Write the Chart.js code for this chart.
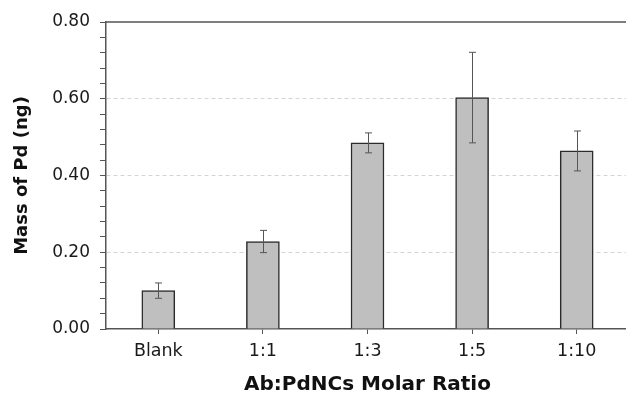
<!DOCTYPE html>
<html>
<head>
<meta charset="utf-8">
<script src="https://cdn.jsdelivr.net/npm/chart.js@4.4.1/dist/chart.umd.min.js"></script>
<style>
    html, body { margin: 0; padding: 0; background: #fff; overflow: hidden; }
    #wrap { width: 629px; height: 397px; }
</style>
</head>
<body>
<div id="wrap"><canvas id="massChart" width="629" height="397"></canvas></div>
<script>
// Chart data
const categories = ['Blank', '1:1', '1:3', '1:5', '1:10'];
const massValues = [0.100, 0.228, 0.485, 0.603, 0.464];
const errorValues = [0.020, 0.029, 0.026, 0.118, 0.052];
const yTickLabels = ['0.00', '0.20', '0.40', '0.60', '0.80'];

const FONT = "'DejaVu Sans', sans-serif";

// Draws the error bars and the frame line along the top of the plot
const errorBarPlugin = {
    id: 'errorBars',
    afterDatasetsDraw(chart) {
        const ctx = chart.ctx;
        const yScale = chart.scales.y;
        const meta = chart.getDatasetMeta(0);
        ctx.save();
        ctx.strokeStyle = '#555';
        ctx.lineWidth = 1;
        meta.data.forEach((bar, i) => {
            const x = Math.round(bar.x) + 0.5;
            const top = yScale.getPixelForValue(massValues[i] + errorValues[i]);
            const bottom = yScale.getPixelForValue(massValues[i] - errorValues[i]);
            ctx.beginPath();
            ctx.moveTo(x, top);
            ctx.lineTo(x, bottom);
            ctx.moveTo(x - 3.5, top);
            ctx.lineTo(x + 3.5, top);
            ctx.moveTo(x - 3.5, bottom);
            ctx.lineTo(x + 3.5, bottom);
            ctx.stroke();
        });
        // top frame line
        const area = chart.chartArea;
        ctx.strokeStyle = '#555';
        ctx.lineWidth = 1.5;
        ctx.beginPath();
        ctx.moveTo(area.left, area.top);
        ctx.lineTo(area.right, area.top);
        ctx.stroke();
        ctx.restore();
    }
};

new Chart(document.getElementById('massChart').getContext('2d'), {
    type: 'bar',
    data: {
        labels: categories,
        datasets: [{
            label: 'Mass of Pd',
            data: massValues,
            backgroundColor: '#bfbfbf',
            borderColor: '#2b2b2b',
            borderWidth: 1.5,
            barThickness: 33
        }]
    },
    options: {
        responsive: false,
        animation: false,
        devicePixelRatio: 1,
        layout: {
            padding: { top: 22, left: 0, right: 0, bottom: 0 }
        },
        plugins: {
            legend: { display: false },
            tooltip: { enabled: false }
        },
        scales: {
            x: {
                afterFit: function(scale) { scale.height = 68; },
                grid: {
                    display: true,
                    offset: false,
                    drawOnChartArea: false,
                    tickLength: 5,
                    tickColor: '#555'
                },
                border: { color: '#555', width: 1.5 },
                ticks: {
                    color: '#1a1a1a',
                    padding: 7,
                    font: { family: FONT, size: 17.5 }
                },
                title: {
                    display: true,
                    text: 'Ab:PdNCs Molar Ratio',
                    color: '#111',
                    padding: { top: 0, bottom: 0 },
                    font: { family: FONT, size: 20, weight: 'bold' }
                }
            },
            y: {
                min: 0,
                max: 0.8,
                afterFit: function(scale) { scale.width = 106; },
                grid: {
                    color: function(context) {
                        const v = Math.round(context.tick.value * 100);
                        return (v === 20 || v === 40 || v === 60) ? '#d4d4d4' : 'rgba(0,0,0,0)';
                    },
                    tickColor: '#555',
                    tickLength: 6,
                    tickBorderDash: []
                },
                border: { color: '#555', width: 1.5, dash: [4, 3] },
                ticks: {
                    stepSize: 0.04,
                    autoSkip: false,
                    padding: 10,
                    color: '#1a1a1a',
                    font: { family: FONT, size: 17 },
                    callback: function(value) {
                        const v = Math.round(value * 100);
                        return v % 20 === 0 ? yTickLabels[v / 20] : '';
                    }
                },
                title: {
                    display: true,
                    text: 'Mass of Pd (ng)',
                    color: '#111',
                    padding: { top: 12, bottom: 0 },
                    font: { family: FONT, size: 18, weight: 'bold' }
                }
            }
        }
    },
    plugins: [errorBarPlugin]
});
</script>
</body>
</html>
